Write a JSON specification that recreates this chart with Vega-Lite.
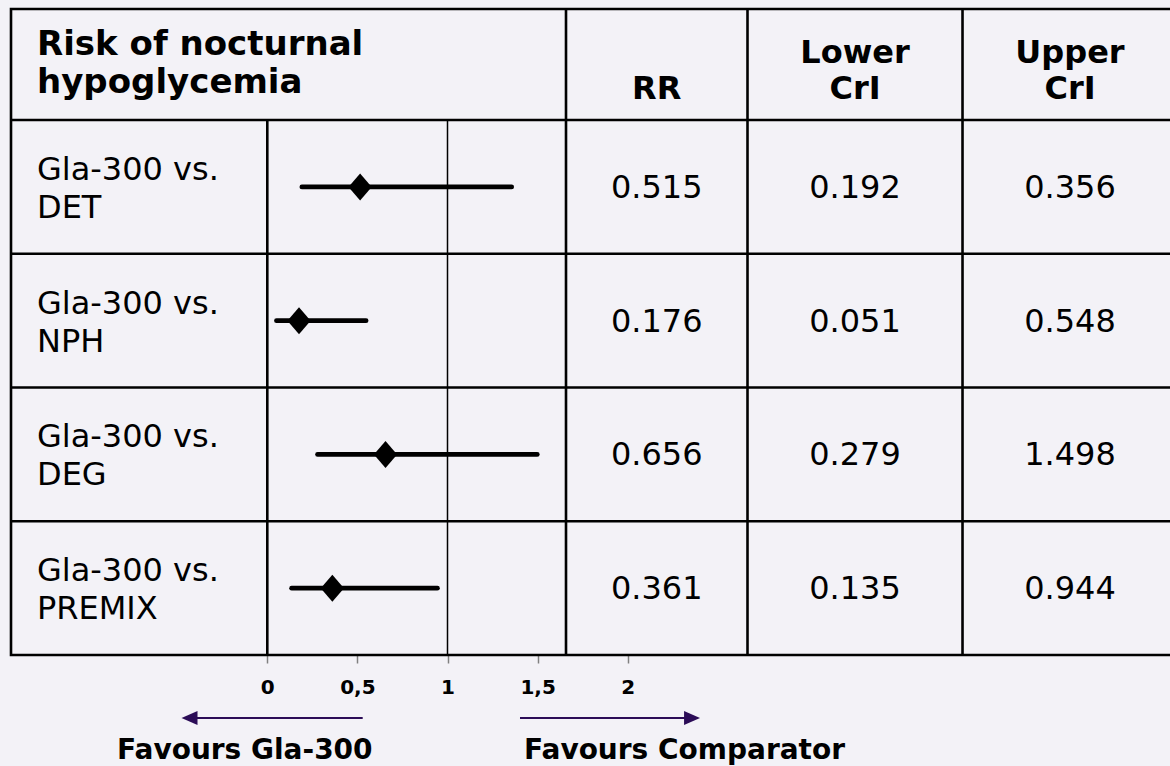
{
  "$schema": "https://vega.github.io/schema/vega-lite/v6.json",
  "width": 1159,
  "height": 646,
  "autosize": {"type": "none"},
  "padding": {"left": 11, "top": 9, "right": 0, "bottom": 111},
  "background": "#F3F2F7",
  "config": {
    "view": {"stroke": null},
    "font": "DejaVu Sans",
    "text": {"font": "DejaVu Sans", "color": "#000000"},
    "axisX": {
      "domain": false, "grid": false,
      "ticks": true, "tickSize": 8, "tickColor": "#808080", "tickWidth": 1.5,
      "labelFont": "DejaVu Sans", "labelFontWeight": "bold", "labelFontSize": 20,
      "labelColor": "#000000", "labelPadding": 14, "labelFlush": false
    }
  },
  "datasets": {
    "rows": [
      {"row": 1, "comparison": "Gla-300 vs.\nDET", "rr": 0.515, "lower": 0.192, "upper": 0.356, "ci_hi": 1.356},
      {"row": 2, "comparison": "Gla-300 vs.\nNPH", "rr": 0.176, "lower": 0.051, "upper": 0.548, "ci_hi": 0.548},
      {"row": 3, "comparison": "Gla-300 vs.\nDEG", "rr": 0.656, "lower": 0.279, "upper": 1.498, "ci_hi": 1.498},
      {"row": 4, "comparison": "Gla-300 vs.\nPREMIX", "rr": 0.361, "lower": 0.135, "upper": 0.944, "ci_hi": 0.944}
    ],
    "one": [{}]
  },
  "layer": [
    {
      "data": {"name": "one"},
      "mark": {"type": "rect", "fill": null, "stroke": "#000000", "strokeWidth": 2.6},
      "encoding": {
        "x": {
          "datum": -1.4223, "type": "quantitative", "title": null,
          "scale": {"domain": [-1.4223, 5.0094], "nice": false, "zero": false},
          "axis": {
            "values": [0, 0.5, 1, 1.5, 2],
            "labelExpr": "replace(format(datum.value, '~g'), '.', ',')",
            "labelFontSize": 20,
            "labelFontWeight": "bold",
            "labelPadding": 14,
            "title": null
          }
        },
        "x2": {"datum": 5.3},
        "y": {"datum": -0.33, "type": "quantitative", "scale": {"domain": [-0.33, 4.5], "nice": false, "zero": false, "reverse": true}, "axis": null},
        "y2": {"datum": 4.5}
      }
    },
    {
      "data": {"name": "one"},
      "mark": {"type": "rule", "color": "#000000", "strokeWidth": 2.6},
      "encoding": {"x": {"datum": -1.4223, "type": "quantitative", "title": null}, "x2": {"datum": 5.3}, "y": {"datum": 0.5, "type": "quantitative", "axis": null}}
    },
    {
      "data": {"name": "one"},
      "mark": {"type": "rule", "color": "#000000", "strokeWidth": 2.6},
      "encoding": {"x": {"datum": -1.4223, "type": "quantitative", "title": null}, "x2": {"datum": 5.3}, "y": {"datum": 1.5, "type": "quantitative", "axis": null}}
    },
    {
      "data": {"name": "one"},
      "mark": {"type": "rule", "color": "#000000", "strokeWidth": 2.6},
      "encoding": {"x": {"datum": -1.4223, "type": "quantitative", "title": null}, "x2": {"datum": 5.3}, "y": {"datum": 2.5, "type": "quantitative", "axis": null}}
    },
    {
      "data": {"name": "one"},
      "mark": {"type": "rule", "color": "#000000", "strokeWidth": 2.6},
      "encoding": {"x": {"datum": -1.4223, "type": "quantitative", "title": null}, "x2": {"datum": 5.3}, "y": {"datum": 3.5, "type": "quantitative", "axis": null}}
    },
    {
      "data": {"name": "one"},
      "mark": {"type": "rule", "color": "#000000", "strokeWidth": 2.6},
      "encoding": {"x": {"datum": 0, "type": "quantitative", "title": null}, "y": {"datum": 0.5, "type": "quantitative", "axis": null}, "y2": {"datum": 4.5}}
    },
    {
      "data": {"name": "one"},
      "mark": {"type": "rule", "color": "#000000", "strokeWidth": 1.5},
      "encoding": {"x": {"datum": 1, "type": "quantitative", "title": null}, "y": {"datum": 0.5, "type": "quantitative", "axis": null}, "y2": {"datum": 4.5}}
    },
    {
      "data": {"name": "one"},
      "mark": {"type": "rule", "color": "#000000", "strokeWidth": 2.6},
      "encoding": {"x": {"datum": 1.6576, "type": "quantitative", "title": null}, "y": {"datum": -0.33, "type": "quantitative", "axis": null}, "y2": {"datum": 4.5}}
    },
    {
      "data": {"name": "one"},
      "mark": {"type": "rule", "color": "#000000", "strokeWidth": 2.6},
      "encoding": {"x": {"datum": 2.6648, "type": "quantitative", "title": null}, "y": {"datum": -0.33, "type": "quantitative", "axis": null}, "y2": {"datum": 4.5}}
    },
    {
      "data": {"name": "one"},
      "mark": {"type": "rule", "color": "#000000", "strokeWidth": 2.6},
      "encoding": {"x": {"datum": 3.858, "type": "quantitative", "title": null}, "y": {"datum": -0.33, "type": "quantitative", "axis": null}, "y2": {"datum": 4.5}}
    },
    {
      "data": {"name": "rows"},
      "mark": {"type": "rule", "color": "#000000", "strokeWidth": 4.8, "strokeCap": "round"},
      "encoding": {
        "x": {"field": "lower", "type": "quantitative", "title": null},
        "x2": {"field": "ci_hi"},
        "y": {"field": "row", "type": "quantitative", "axis": null}
      }
    },
    {
      "data": {"name": "rows"},
      "mark": {"type": "point", "shape": "M0,-1L0.86,0L0,1L-0.86,0Z", "size": 729, "filled": true, "color": "#000000", "opacity": 1, "strokeWidth": 0},
      "encoding": {
        "x": {"field": "rr", "type": "quantitative", "title": null},
        "y": {"field": "row", "type": "quantitative", "axis": null}
      }
    },
    {
      "data": {"name": "rows"},
      "mark": {"type": "text", "align": "left", "baseline": "middle", "fontSize": 32, "lineBreak": "\n", "lineHeight": 38, "dy": -17},
      "encoding": {
        "x": {"datum": -1.278, "type": "quantitative", "title": null},
        "y": {"field": "row", "type": "quantitative", "axis": null},
        "text": {"field": "comparison"}
      }
    },
    {
      "data": {"name": "rows"},
      "mark": {"type": "text", "align": "center", "baseline": "middle", "fontSize": 32, "dy": 1},
      "encoding": {
        "x": {"datum": 2.161, "type": "quantitative", "title": null},
        "y": {"field": "row", "type": "quantitative", "axis": null},
        "text": {"field": "rr", "format": ".3f"}
      }
    },
    {
      "data": {"name": "rows"},
      "mark": {"type": "text", "align": "center", "baseline": "middle", "fontSize": 32, "dy": 1},
      "encoding": {
        "x": {"datum": 3.2614, "type": "quantitative", "title": null},
        "y": {"field": "row", "type": "quantitative", "axis": null},
        "text": {"field": "lower", "format": ".3f"}
      }
    },
    {
      "data": {"name": "rows"},
      "mark": {"type": "text", "align": "center", "baseline": "middle", "fontSize": 32, "dy": 1},
      "encoding": {
        "x": {"datum": 4.4545, "type": "quantitative", "title": null},
        "y": {"field": "row", "type": "quantitative", "axis": null},
        "text": {"field": "upper", "format": ".3f"}
      }
    },
    {
      "data": {"name": "one"},
      "mark": {"type": "text", "text": ["Risk of nocturnal", "hypoglycemia"], "align": "left", "baseline": "alphabetic", "fontSize": 34, "fontWeight": "bold", "lineHeight": 38},
      "encoding": {"x": {"datum": -1.278, "type": "quantitative", "title": null}, "y": {"datum": 0.014, "type": "quantitative", "axis": null}}
    },
    {
      "data": {"name": "one"},
      "mark": {"type": "text", "text": "RR", "align": "center", "baseline": "alphabetic", "fontSize": 32, "fontWeight": "bold"},
      "encoding": {"x": {"datum": 2.161, "type": "quantitative", "title": null}, "y": {"datum": 0.343, "type": "quantitative", "axis": null}}
    },
    {
      "data": {"name": "one"},
      "mark": {"type": "text", "text": ["Lower", "CrI"], "align": "center", "baseline": "alphabetic", "fontSize": 32, "fontWeight": "bold", "lineHeight": 36},
      "encoding": {"x": {"datum": 3.2614, "type": "quantitative", "title": null}, "y": {"datum": 0.074, "type": "quantitative", "axis": null}}
    },
    {
      "data": {"name": "one"},
      "mark": {"type": "text", "text": ["Upper", "CrI"], "align": "center", "baseline": "alphabetic", "fontSize": 32, "fontWeight": "bold", "lineHeight": 36},
      "encoding": {"x": {"datum": 4.4545, "type": "quantitative", "title": null}, "y": {"datum": 0.074, "type": "quantitative", "axis": null}}
    },
    {
      "data": {"name": "one"},
      "mark": {"type": "rule", "color": "#2B0C57", "strokeWidth": 1.8},
      "encoding": {"x": {"datum": 0.5294, "type": "quantitative", "title": null}, "x2": {"datum": -0.4317}, "y": {"datum": 4.971, "type": "quantitative", "axis": null}}
    },
    {
      "data": {"name": "one"},
      "mark": {"type": "point", "shape": "M-1,0L1,-0.875L1,0.875Z", "size": 256, "filled": true, "color": "#2B0C57", "opacity": 1, "strokeWidth": 0},
      "encoding": {"x": {"datum": -0.4317, "type": "quantitative", "title": null}, "y": {"datum": 4.971, "type": "quantitative", "axis": null}}
    },
    {
      "data": {"name": "one"},
      "mark": {"type": "rule", "color": "#2B0C57", "strokeWidth": 1.8},
      "encoding": {"x": {"datum": 1.4023, "type": "quantitative", "title": null}, "x2": {"datum": 2.357}, "y": {"datum": 4.971, "type": "quantitative", "axis": null}}
    },
    {
      "data": {"name": "one"},
      "mark": {"type": "point", "shape": "M1,0L-1,-0.875L-1,0.875Z", "size": 256, "filled": true, "color": "#2B0C57", "opacity": 1, "strokeWidth": 0},
      "encoding": {"x": {"datum": 2.357, "type": "quantitative", "title": null}, "y": {"datum": 4.971, "type": "quantitative", "axis": null}}
    },
    {
      "data": {"name": "one"},
      "mark": {"type": "text", "text": "Favours Gla-300", "align": "left", "baseline": "alphabetic", "fontSize": 28, "fontWeight": "bold"},
      "encoding": {"x": {"datum": -0.834, "type": "quantitative", "title": null}, "y": {"datum": 5.28, "type": "quantitative", "axis": null}}
    },
    {
      "data": {"name": "one"},
      "mark": {"type": "text", "text": "Favours Comparator", "align": "left", "baseline": "alphabetic", "fontSize": 28, "fontWeight": "bold"},
      "encoding": {"x": {"datum": 1.4245, "type": "quantitative", "title": null}, "y": {"datum": 5.28, "type": "quantitative", "axis": null}}
    }
  ]
}
